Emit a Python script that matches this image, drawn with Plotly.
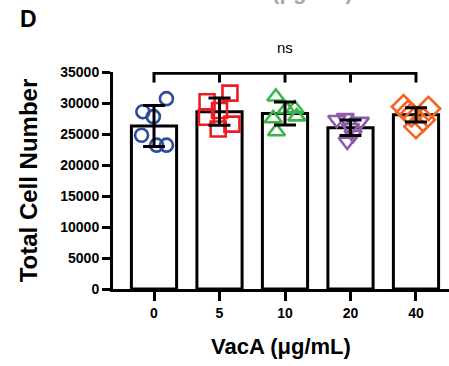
import plotly.graph_objects as go

categories = ["0", "5", "10", "20", "40"]
means = [26300, 28600, 28300, 26000, 28100]
sds = [3300, 2200, 1850, 1250, 1150]

pts_0 = [30700, 28600, 27800, 24800, 23200, 23200]
pts_5 = [30200, 31600, 27700, 25800, 26600, 28800]
pts_10 = [31000, 29100, 27800, 27500, 25400, 29000]
pts_20 = [27300, 27600, 27000, 26000, 24900, 23800]
pts_40 = [29400, 29100, 28100, 27300, 26200, 28500]

# horizontal jitter (in category units) used to spread the points
jit_0 = [0.19, -0.17, -0.01, -0.19, 0.04, 0.19]
jit_5 = [-0.19, 0.16, -0.2, -0.02, 0.19, 0.0]
jit_10 = [-0.14, 0.15, 0.18, -0.18, -0.13, 0.02]
jit_20 = [-0.21, -0.08, 0.15, 0.0, 0.04, -0.05]
jit_40 = [-0.19, 0.19, -0.07, 0.11, 0.0, -0.12]

series = [pts_0, pts_5, pts_10, pts_20, pts_40]
jitters = [jit_0, jit_5, jit_10, jit_20, jit_40]
colors = ["#2F4BA0", "#ED1C24", "#3AB54A", "#8E5BAA", "#F26522"]
symbols = ["circle-open", "square-open", "triangle-up-open", "triangle-down-open", "diamond-open"]
sizes = [13, 15, 15, 15, 18]

FONT = "Arial, Liberation Sans, sans-serif"
xpos = list(range(len(categories)))

fig = go.Figure()
fig.add_trace(go.Bar(
    x=xpos, y=means, width=0.69,
    marker=dict(color="white", line=dict(color="black", width=3)),
    showlegend=False, hoverinfo="skip"))

for i, (vals, jit) in enumerate(zip(series, jitters)):
    fig.add_trace(go.Scatter(
        x=[i + j for j in jit], y=vals, mode="markers",
        marker=dict(symbol=symbols[i], size=sizes[i], color=colors[i],
                    line=dict(color=colors[i], width=2.6)),
        showlegend=False, cliponaxis=False))

fig.add_trace(go.Scatter(
    x=xpos, y=means, mode="markers", marker=dict(size=1, color="rgba(0,0,0,0)"),
    error_y=dict(type="data", array=sds, color="black", thickness=3, width=11),
    showlegend=False, cliponaxis=False))

# significance bracket
by = 34800
fig.add_shape(type="line", xref="x", yref="y", x0=0, x1=4, y0=by, y1=by,
              line=dict(color="black", width=3))
for i in xpos:
    fig.add_shape(type="line", xref="x", yref="y", x0=i, x1=i, y0=by - 1500, y1=by + 1500,
                  line=dict(color="black", width=3))
fig.add_annotation(x=2, y=1.115, xref="x", yref="paper", text="ns", showarrow=False,
                   yanchor="middle",
                   font=dict(family=FONT, size=15, color="black"))

fig.add_annotation(x=-0.283, y=1.245, xref="paper", yref="paper", text="<b>D</b>",
                   showarrow=False, xanchor="left", yanchor="middle",
                   font=dict(family=FONT, size=23, color="black"))
fig.add_annotation(x=1.97, y=1.305, xref="x", yref="paper", text="<b>VacA (\u03bcg/mL)</b>",
                   showarrow=False, yanchor="bottom",
                   font=dict(family=FONT, size=22, color="#a8a8a8"))

fig.update_layout(
    width=449, height=366,
    margin=dict(l=113, r=0, t=72, b=77, autoexpand=False),
    paper_bgcolor="white", plot_bgcolor="white",
    font=dict(family=FONT, color="black"),
    xaxis=dict(range=[-0.626, 4.504], tickvals=xpos, ticktext=categories,
               automargin=False,
               showline=True, linecolor="black", linewidth=3,
               ticks="outside", ticklen=9, tickwidth=3, tickcolor="black",
               showgrid=False, zeroline=False,
               tickfont=dict(family=FONT, size=14, weight="bold"),
               title=dict(text="<b>VacA (\u03bcg/mL)</b>", standoff=19,
                          font=dict(family=FONT, size=22))),
    yaxis=dict(range=[0, 35000], tickvals=list(range(0, 35001, 5000)), tickformat="d",
               automargin=False,
               showline=True, linecolor="black", linewidth=3,
               ticks="outside", ticklen=8, tickwidth=3, tickcolor="black",
               showgrid=False, zeroline=False,
               tickfont=dict(family=FONT, size=14, weight="bold"),
               title=dict(text="<b>Total Cell Number</b>", standoff=16,
                          font=dict(family=FONT, size=24))),
)

fig.write_html("out.html", config={"displayModeBar": False},
               post_script="document.body.style.margin='0px';")
